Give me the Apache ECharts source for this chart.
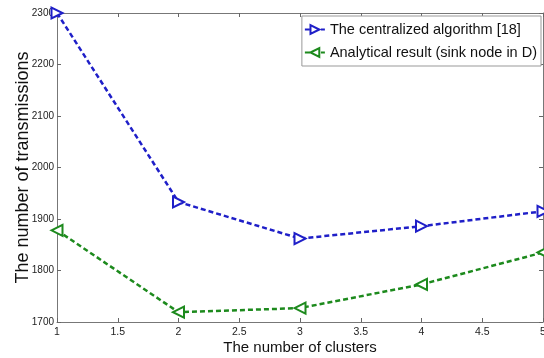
<!DOCTYPE html>
<html>
<head>
<meta charset="utf-8">
<script src="https://cdn.jsdelivr.net/npm/echarts@6/dist/echarts.min.js"></script>
<style>
html,body{margin:0;padding:0;background:#fff;}
#chart{width:544px;height:358px;}
</style>
</head>
<body>
<div id="chart"></div>
<script>
// data
var clusters = [1, 2, 3, 4, 5];
var centralized = [2300, 1933, 1862, 1886, 1915];
var analytical = [1878, 1719, 1727, 1773, 1835];
var names = ['The centralized algorithm [18]', 'Analytical result (sink node in D)'];

var font = "'Liberation Sans Narrow', 'Liberation Sans', Arial, sans-serif";
var chart = echarts.init(document.getElementById('chart'));

function pairs(v){
	var out = [];
	for (var i = 0; i < clusters.length; i++) out.push([clusters[i], v[i]]);
	return out;
}

var tickStyle = {inside:true, length:4, lineStyle:{color:'#666'}};
var lineStyle = {color:'#777', width:1};

chart.setOption({
	animation:false,
	grid:{left:57, right:1, top:13, bottom:36, outerBoundsMode:'none', containLabel:false},
	legend:{
		right:3, top:16,
		orient:'vertical',
		itemGap:8,
		itemWidth:20, itemHeight:11,
		padding:[6,4,6,2],
		borderColor:'#999', borderWidth:1,
		backgroundColor:'#fff',
		textStyle:{fontFamily:font, fontSize:14.5, color:'#111'},
		data:names
	},
	xAxis:[{
		type:'value', min:1, max:5, interval:0.5,
		name:'The number of clusters', nameLocation:'middle', nameGap:18,
		nameMoveOverlap:false,
		nameTextStyle:{fontFamily:font, fontSize:15, color:'#111'},
		axisLine:{lineStyle:lineStyle},
		axisTick:tickStyle,
		axisLabel:{fontFamily:font, fontSize:10.5, color:'#222', margin:5,
			formatter:function(v){return String(v);}},
		splitLine:{show:false}
	},{
		type:'value', min:1, max:5, interval:0.5, position:'top',
		axisLine:{lineStyle:lineStyle}, axisTick:tickStyle,
		axisLabel:{show:false}, splitLine:{show:false}
	}],
	yAxis:[{
		type:'value', min:1700, max:2300, interval:100,
		name:'The number of transmissions', nameLocation:'middle', nameGap:25,
		nameMoveOverlap:false,
		nameTextStyle:{fontFamily:font, fontSize:18, color:'#111'},
		axisLine:{lineStyle:lineStyle},
		axisTick:tickStyle,
		axisLabel:{fontFamily:font, fontSize:10, color:'#222', margin:3,
			formatter:function(v){return String(v);}},
		splitLine:{show:false}
	},{
		type:'value', min:1700, max:2300, interval:100, position:'right',
		axisLine:{show:true, lineStyle:lineStyle}, axisTick:tickStyle,
		axisLabel:{show:false}, splitLine:{show:false}
	}],
	series:[{
		name:names[0], type:'line', data:pairs(centralized),
		symbol:'triangle', symbolSize:11, symbolRotate:-90,
		showAllSymbol:true,
		lineStyle:{color:'#1f1fc8', width:2.5, type:[5,3]},
		itemStyle:{color:'#fff', borderColor:'#1f1fc8', borderWidth:2},
		z:3
	},{
		name:names[1], type:'line', data:pairs(analytical),
		symbol:'triangle', symbolSize:11, symbolRotate:90,
		showAllSymbol:true,
		lineStyle:{color:'#1d8a1d', width:2.5, type:[5,3]},
		itemStyle:{color:'#fff', borderColor:'#1d8a1d', borderWidth:2},
		z:3
	}]
});
</script>
</body>
</html>
